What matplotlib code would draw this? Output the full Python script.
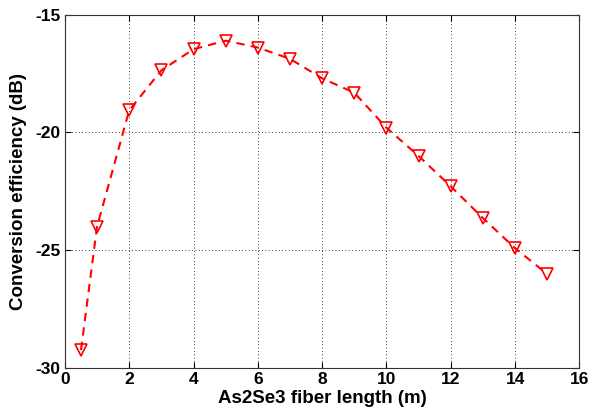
import matplotlib
matplotlib.use("Agg")
import matplotlib.pyplot as plt

# fiber length (m) and conversion efficiency (dB)
length_m = [0.5, 1, 2, 3, 4, 5, 6, 7, 8, 9, 10, 11, 12, 13, 14, 15]
efficiency_db = [-29.25, -24.0, -19.06, -17.36, -16.46, -16.1, -16.39, -16.87,
                 -17.70, -18.31, -19.80, -21.0, -22.29, -23.64, -24.92, -26.02]

x_ticks = [0, 2, 4, 6, 8, 10, 12, 14, 16]
y_ticks = [-30, -25, -20, -15]

plt.rcParams["font.family"] = ["Liberation Sans", "DejaVu Sans"]
plt.rcParams["font.weight"] = "bold"
plt.rcParams["axes.unicode_minus"] = False

fig = plt.figure(figsize=(5.9, 4.12), dpi=100)
ax = fig.add_axes([0.110, 0.1075, 0.872, 0.8565])

ax.plot(length_m, efficiency_db, color="red", linestyle="--", linewidth=1.5,
        dashes=(4, 3), marker="v", markersize=9, markerfacecolor="none",
        markeredgecolor="red", markeredgewidth=1.2)

ax.set_xlim(0, 16)
ax.set_ylim(-30, -15)
ax.set_xticks(x_ticks)
ax.set_yticks(y_ticks)
ax.tick_params(direction="in", top=True, right=True, length=4, width=0.8,
               labelsize=12.5, pad=3)
for lbl in ax.get_xticklabels() + ax.get_yticklabels():
    lbl.set_fontweight("bold")
ax.grid(True, color="black", linestyle=(0, (1, 3)), linewidth=0.6)
for sp in ax.spines.values():
    sp.set_linewidth(0.8)
    sp.set_color("#333333")

ax.set_xlabel("As2Se3 fiber length (m)", fontsize=13.5, fontweight="bold", labelpad=2)
ax.set_ylabel("Conversion efficiency (dB)", fontsize=13.5, fontweight="bold", labelpad=6)

fig.savefig("out.png", dpi=100)
